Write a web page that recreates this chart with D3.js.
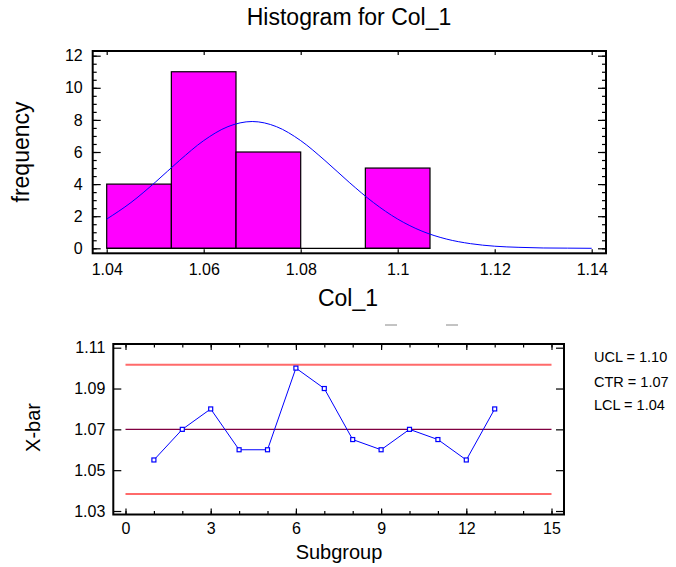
<!DOCTYPE html>
<html><head><meta charset="utf-8">
<script src="https://cdn.jsdelivr.net/npm/d3@7"></script>
<style>
body{margin:0;background:#fff;}
svg{display:block;font-family:"Liberation Sans",Arial,sans-serif;}
</style></head>
<body>
<svg id="c" width="676" height="567"></svg>
<script>
// ---------- data ----------
const binStarts = [1.04, 1.05333, 1.06667, 1.08, 1.09333];
const binWidth = 0.01333;
const binCounts = [4, 11, 6, 0, 5];
const curveX = [1.040,1.045,1.050,1.055,1.060,1.065,1.070,1.075,1.080,1.085,1.090,1.095,1.100,1.105,1.110,1.115,1.120,1.125,1.130,1.135,1.140];
const curveY = [1.82,2.85,4.11,5.47,6.71,7.58,7.90,7.58,6.71,5.47,4.11,2.85,1.82,1.07,0.58,0.29,0.13,0.06,0.02,0.01,0.00];
const histXTicks = [1.04,1.06,1.08,1.10,1.12,1.14];
const histXTickLabels = ["1.04","1.06","1.08","1.1","1.12","1.14"];
const histYTicks = [0,2,4,6,8,10,12];

const subgroups = [1,2,3,4,5,6,7,8,9,10,11,12,13];
const xbar = [1.055,1.07,1.08,1.06,1.06,1.10,1.09,1.065,1.06,1.07,1.065,1.055,1.08];
const UCL = 1.1017, CTR = 1.07, LCL = 1.0383;
const limitLabels = ["UCL = 1.10","CTR = 1.07","LCL = 1.04"];
const ctrlXTicks = [0,3,6,9,12,15];
const ctrlYTicks = [1.03,1.05,1.07,1.09,1.11];

const svg = d3.select("#c");
const FONT = '"Liberation Sans",Arial,sans-serif';

function styleAxis(g, fs){
  g.select(".domain").remove();
  g.selectAll("line").attr("stroke","#000").attr("stroke-width",1.2);
  g.selectAll("text").attr("font-family",FONT).attr("font-size",fs).attr("fill","#000");
  g.attr("font-family",null).attr("font-size",null);
}
function range(a,b,s){const r=[];for(let v=a;v<=b+1e-9;v+=s)r.push(+v.toFixed(4));return r;}

// ---------- histogram ----------
const H = {l:92.7, r:606, t:51, b:253.3};
const hx = d3.scaleLinear().domain([1.04,1.14]).range([106.7,591.7]);
const hy = d3.scaleLinear().domain([0,12]).range([248.3,55.7]);

svg.append("text").attr("x",349).attr("y",25).attr("text-anchor","middle")
  .attr("font-size",23).text("Histogram for Col_1");

svg.append("g").selectAll("rect").data(binCounts.map((c,i)=>({x0:binStarts[i],c})))
  .join("rect").filter(d=>d.c>0)
  .attr("x",d=>hx(d.x0)).attr("width",d=>hx(d.x0+binWidth)-hx(d.x0))
  .attr("y",d=>hy(d.c)).attr("height",d=>hy(0)-hy(d.c))
  .attr("fill","#ff00ff").attr("stroke","#000").attr("stroke-width",1.2);

// baseline
svg.append("line").attr("x1",hx(1.04)).attr("x2",hx(1.1067)).attr("y1",hy(0)).attr("y2",hy(0))
  .attr("stroke","#000").attr("stroke-width",1.2);

svg.append("path").datum(curveX.map((x,i)=>[x,curveY[i]]))
  .attr("d",d3.line().x(d=>hx(d[0])).y(d=>hy(d[1])).curve(d3.curveMonotoneX))
  .attr("fill","none").attr("stroke","#0000ff").attr("stroke-width",1);

// axes
let g;
g = svg.append("g").attr("transform",`translate(${H.l},0)`)
  .call(d3.axisLeft(hy).tickValues(histYTicks).tickSize(-8).tickPadding(10)); styleAxis(g,16);
g = svg.append("g").attr("transform",`translate(${H.l},0)`)
  .call(d3.axisLeft(hy).tickValues(range(0,12,0.5)).tickSize(-4).tickFormat("")); styleAxis(g,16);
g = svg.append("g").attr("transform",`translate(${H.r},0)`)
  .call(d3.axisRight(hy).tickValues(histYTicks).tickSize(-8).tickFormat("")); styleAxis(g,16);
g = svg.append("g").attr("transform",`translate(${H.r},0)`)
  .call(d3.axisRight(hy).tickValues(range(0,12,0.5)).tickSize(-4).tickFormat("")); styleAxis(g,16);
g = svg.append("g").attr("transform",`translate(0,${H.b})`)
  .call(d3.axisBottom(hx).tickValues(histXTicks).tickSize(-4).tickPadding(10.3)
  .tickFormat((d,i)=>histXTickLabels[i])); styleAxis(g,16);
g = svg.append("g").attr("transform",`translate(0,${H.t})`)
  .call(d3.axisTop(hx).tickValues(histXTicks).tickSize(-4).tickFormat("")); styleAxis(g,16);

svg.append("rect").attr("x",H.l).attr("y",H.t).attr("width",H.r-H.l).attr("height",H.b-H.t)
  .attr("fill","none").attr("stroke","#000").attr("stroke-width",2);

svg.append("text").attr("transform","translate(28.5,152) rotate(-90)").attr("text-anchor","middle")
  .attr("font-size",23).text("frequency");
svg.append("text").attr("x",348).attr("y",306).attr("text-anchor","middle")
  .attr("font-size",23).text("Col_1");

// overline residue
svg.append("line").attr("x1",385).attr("x2",397).attr("y1",325).attr("y2",325).attr("stroke","#888").attr("stroke-width",1);
svg.append("line").attr("x1",446).attr("x2",458).attr("y1",325).attr("y2",325).attr("stroke","#888").attr("stroke-width",1);

// ---------- control chart ----------
const C = {l:113.3, r:564, t:344, b:514.5};
const cx = d3.scaleLinear().domain([0,15]).range([125.5,551.5]);
const cy = d3.scaleLinear().domain([1.03,1.11]).range([511,347.7]);

[[UCL,"#ff6a6a",2],[LCL,"#ff6a6a",2],[CTR,"#800040",1.3]].forEach(([v,col,w])=>{
  svg.append("line").attr("x1",cx(0)).attr("x2",cx(15)).attr("y1",cy(v)).attr("y2",cy(v))
    .attr("stroke",col).attr("stroke-width",w);
});

svg.append("path").datum(subgroups.map((s,i)=>[s,xbar[i]]))
  .attr("d",d3.line().x(d=>cx(d[0])).y(d=>cy(d[1])))
  .attr("fill","none").attr("stroke","#0000ff").attr("stroke-width",1);
svg.append("g").selectAll("rect").data(subgroups.map((s,i)=>[s,xbar[i]])).join("rect")
  .attr("x",d=>cx(d[0])-2).attr("y",d=>cy(d[1])-2).attr("width",4).attr("height",4)
  .attr("fill","#fff").attr("stroke","#0000ff").attr("stroke-width",1.2);

g = svg.append("g").attr("transform",`translate(${C.l},0)`)
  .call(d3.axisLeft(cy).tickValues(ctrlYTicks).tickSize(-8).tickPadding(8).tickFormat(d3.format(".2f"))); styleAxis(g,16);
g = svg.append("g").attr("transform",`translate(${C.r},0)`)
  .call(d3.axisRight(cy).tickValues(ctrlYTicks).tickSize(-8).tickFormat("")); styleAxis(g,16);
g = svg.append("g").attr("transform",`translate(0,${C.b})`)
  .call(d3.axisBottom(cx).tickValues(ctrlXTicks).tickSize(-6).tickPadding(8.5)); styleAxis(g,16);
g = svg.append("g").attr("transform",`translate(0,${C.b})`)
  .call(d3.axisBottom(cx).tickValues(range(0,15,1)).tickSize(-3.5).tickFormat("")); styleAxis(g,16);
g = svg.append("g").attr("transform",`translate(0,${C.t})`)
  .call(d3.axisTop(cx).tickValues(ctrlXTicks).tickSize(-6).tickFormat("")); styleAxis(g,16);
g = svg.append("g").attr("transform",`translate(0,${C.t})`)
  .call(d3.axisTop(cx).tickValues(range(0,15,1)).tickSize(-3.5).tickFormat("")); styleAxis(g,16);

svg.append("rect").attr("x",C.l).attr("y",C.t).attr("width",C.r-C.l).attr("height",C.b-C.t)
  .attr("fill","none").attr("stroke","#000").attr("stroke-width",2);

svg.append("text").attr("transform","translate(40,427.5) rotate(-90)").attr("text-anchor","middle")
  .attr("font-size",20).text("X-bar");
svg.append("text").attr("x",339).attr("y",559).attr("text-anchor","middle")
  .attr("font-size",20).text("Subgroup");

svg.append("g").selectAll("text").data(limitLabels).join("text")
  .attr("x",594).attr("y",(d,i)=>[362,387,410][i]).attr("font-size",14.5).text(d=>d);
</script>
</body></html>
